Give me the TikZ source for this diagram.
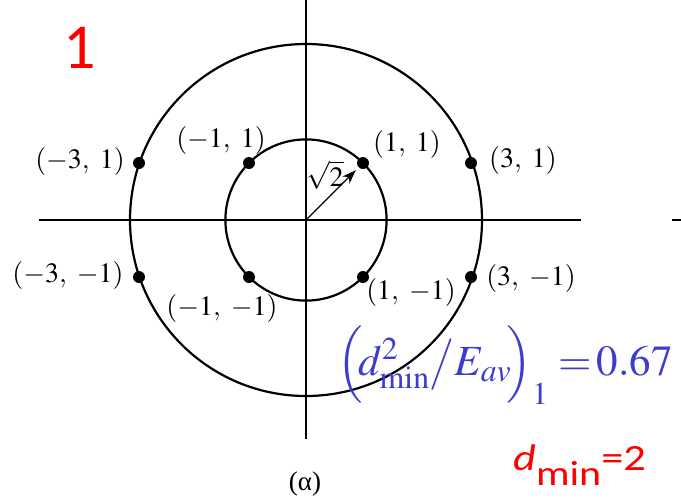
\documentclass[tikz,border=0pt]{standalone}
\usepackage{mathptmx}
\usepackage[no-math]{fontspec}
\setmainfont{Liberation Serif}
\newfontfamily\tms{Liberation Serif}
\newfontfamily\calibri{Carlito}
\usetikzlibrary{arrows.meta}
\definecolor{fblue}{RGB}{60,60,205}
\definecolor{fred}{RGB}{255,0,0}
\begin{document}
\begin{tikzpicture}[x=1pt,y=-1pt,
  axis/.style={line width=2pt},
  ring/.style={line width=2.2pt},
  dot/.style={circle,fill=black,inner sep=0pt,minimum size=12pt},
  lbl/.style={font=\fontsize{28}{32}\selectfont, inner sep=0pt},
]
\path[use as bounding box] (0,0) rectangle (681,499);
\coordinate (o) at (306,220);
\coordinate (xl) at (39,220);
\coordinate (xr) at (581,220);
\coordinate (yt) at (306,0);
\coordinate (yb) at (306,439);
\coordinate (dl) at (672,220);
\coordinate (dr) at (681,220);
\draw[axis] (xl) -- (xr);
\draw[axis] (yt) -- (yb);
\draw[axis] (dl) -- (dr);
\draw[ring] (o) circle[radius=80.6];
\draw[ring] (o) circle[radius=176];
% points
\node[dot] (p11) at (363,163) {};
\node[dot] (p31) at (471,163) {};
\node[dot] (pm11) at (249,163) {};
\node[dot] (pm31) at (139,163) {};
\node[dot] (p1m1) at (363,277) {};
\node[dot] (p3m1) at (471,277) {};
\node[dot] (pm1m1) at (249,277) {};
\node[dot] (pm3m1) at (139,277) {};
\draw[line width=1.3pt,-{Stealth[length=14pt,width=10pt]},shorten >=4pt] (o) -- (p11);
\node[lbl] (sq) at (325,175) {$\sqrt{2}$};
% labels
\node[lbl] (l11) at (407,144) {$(1,\ 1)$};
\node[lbl] (l31) at (523,160) {$(3,\ 1)$};
\node[lbl] (lm11) at (221,140) {$(-1,\ 1)$};
\node[lbl] (lm31) at (80,161) {$(-3,\ 1)$};
\node[lbl] (l1m1) at (411,292) {$(1,\ -1)$};
\node[lbl] (l3m1) at (531,278) {$(3,\ -1)$};
\node[lbl] (lm1m1) at (222,308) {$(-1,\ -1)$};
\node[lbl] (lm3m1) at (68,275) {$(-3,\ -1)$};
\node[inner sep=0pt,font=\tms\fontsize{27}{30}\selectfont] (cap) at (305,484) {(α)};
% texts
\node[text=fred,font=\calibri\fontsize{64}{70}\selectfont,anchor=base,inner sep=0pt] (one) at (80,68) {1};
\node[text=fblue,anchor=base east,inner sep=0pt] (form) at (673,375) {\fontsize{43}{50}\selectfont $\Bigl(\!d^2_{\min}\big/E_{av}\!\Bigr)_1\;{=}\,0.67$};
\node[text=fred,font=\calibri,anchor=base west,inner sep=0pt] (dmin) at (513,470) {\scalebox{1.2}[1]{{\fontsize{37}{40}\selectfont\itshape d}{\fontsize{35}{36}\selectfont\raisebox{-15pt}{min}}{\fontsize{37}{40}\selectfont =2}}};
\end{tikzpicture}
\end{document}
